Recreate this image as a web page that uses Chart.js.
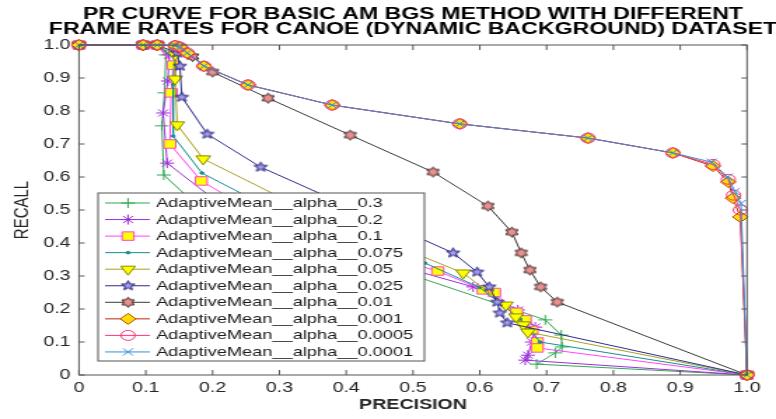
<!DOCTYPE html>
<html>
<head>
<meta charset="utf-8">
<script src="https://cdn.jsdelivr.net/npm/chart.js@4"></script>
<style>
    body { margin: 0; background: #fff; }
    canvas { display: block; }
</style>
</head>
<body>
<!-- o desenho original está esticado na horizontal, por isso o canvas é mais estreito e o CSS estica -->
<canvas id="grafico" width="554" height="419" style="width:776px;height:419px"></canvas>
<script>
const titulo = ['PR CURVE FOR BASIC AM BGS METHOD WITH DIFFERENT', 'FRAME RATES FOR CANOE (DYNAMIC BACKGROUND) DATASET'];
const legendas = [
    'AdaptiveMean__alpha__0.3',
    'AdaptiveMean__alpha__0.2',
    'AdaptiveMean__alpha__0.1',
    'AdaptiveMean__alpha__0.075',
    'AdaptiveMean__alpha__0.05',
    'AdaptiveMean__alpha__0.025',
    'AdaptiveMean__alpha__0.01',
    'AdaptiveMean__alpha__0.001',
    'AdaptiveMean__alpha__0.0005',
    'AdaptiveMean__alpha__0.0001'
];
const ticksEixo = [0, 0.1, 0.2, 0.3, 0.4, 0.5, 0.6, 0.7, 0.8, 0.9, 1];

// precisão (x) e recall (y)
const precision03 = [0, 0.096, 0.117, 0.13, 0.128, 0.124, 0.127, 0.20, 0.40, 0.698, 0.722, 0.723, 0.713, 0.685, 1];
const recall03    = [1, 1, 1, 0.97, 0.855, 0.755, 0.606, 0.47, 0.37, 0.167, 0.121, 0.085, 0.067, 0.033, 0];
const precision02 = [0, 0.096, 0.117, 0.135, 0.133, 0.126, 0.132, 0.21, 0.32, 0.590, 0.657, 0.683, 0.678, 0.672, 0.668, 1];
const recall02    = [1, 1, 1, 0.97, 0.891, 0.794, 0.642, 0.52, 0.42, 0.267, 0.197, 0.145, 0.10, 0.06, 0.045, 0];
const precision01 = [0, 0.096, 0.117, 0.141, 0.138, 0.136, 0.183, 0.30, 0.537, 0.605, 0.622, 0.655, 0.668, 0.678, 0.686, 0.686, 1];
const recall01    = [1, 1, 1, 0.939, 0.855, 0.70, 0.588, 0.45, 0.315, 0.258, 0.25, 0.19, 0.167, 0.135, 0.10, 0.082, 0];
const precision0075 = [0, 0.096, 0.117, 0.143, 0.141, 0.141, 0.184, 0.32, 0.518, 0.60, 0.635, 0.66, 0.675, 0.69, 1];
const recall0075    = [1, 1, 1, 0.96, 0.88, 0.724, 0.612, 0.47, 0.339, 0.265, 0.21, 0.17, 0.14, 0.10, 0];
const precision005 = [0, 0.096, 0.117, 0.144, 0.144, 0.147, 0.186, 0.32, 0.575, 0.639, 0.654, 0.665, 0.672, 1];
const recall005    = [1, 1, 1, 0.97, 0.897, 0.758, 0.655, 0.52, 0.309, 0.212, 0.176, 0.152, 0.130, 0];
const precision0025 = [0, 0.096, 0.117, 0.147, 0.151, 0.154, 0.192, 0.272, 0.560, 0.596, 0.614, 0.626, 0.630, 0.641, 1];
const recall0025    = [1, 1, 1, 0.976, 0.936, 0.842, 0.730, 0.630, 0.370, 0.312, 0.267, 0.221, 0.188, 0.158, 0];
const precision001 = [0, 0.096, 0.117, 0.144, 0.155, 0.170, 0.200, 0.283, 0.406, 0.530, 0.612, 0.648, 0.662, 0.675, 0.691, 0.716, 1];
const recall001    = [1, 1, 1, 0.997, 0.985, 0.965, 0.918, 0.839, 0.727, 0.615, 0.512, 0.433, 0.370, 0.318, 0.267, 0.221, 0];
const precision0001 = [0, 0.096, 0.117, 0.144, 0.151, 0.162, 0.187, 0.253, 0.379, 0.570, 0.762, 0.889, 0.949, 0.972, 0.979, 0.990, 1];
const recall0001    = [1, 1, 1, 0.998, 0.994, 0.976, 0.936, 0.879, 0.818, 0.761, 0.718, 0.673, 0.633, 0.585, 0.536, 0.479, 0];
const precision00005 = [0, 0.096, 0.117, 0.144, 0.151, 0.162, 0.187, 0.253, 0.379, 0.570, 0.762, 0.889, 0.949, 0.972, 0.980, 0.990, 1];
const recall00005    = [1, 1, 1, 0.998, 0.994, 0.976, 0.936, 0.879, 0.818, 0.761, 0.718, 0.673, 0.638, 0.593, 0.545, 0.500, 0];
const precision00001 = [0, 0.096, 0.117, 0.144, 0.151, 0.162, 0.187, 0.253, 0.379, 0.570, 0.762, 0.889, 0.947, 0.971, 0.982, 0.991, 1];
const recall00001    = [1, 1, 1, 0.998, 0.994, 0.976, 0.936, 0.879, 0.818, 0.761, 0.718, 0.673, 0.645, 0.600, 0.556, 0.520, 0];

const fonte = "'Liberation Sans', Arial, sans-serif";
Chart.defaults.font.family = fonte;

// marcadores estrela do matlab (pentagrama e hexagrama)
function estrela(n, ro, ri, fill, stroke) {
    const c = document.createElement('canvas');
    c.width = c.height = Math.ceil(2 * ro + 3);
    const g = c.getContext('2d');
    const m = c.width / 2;
    g.beginPath();
    for (let k = 0; k < 2 * n; k++) {
        const r = k % 2 ? ri : ro;
        const a = -Math.PI / 2 + k * Math.PI / n;
        g.lineTo(m + r * Math.cos(a), m + r * Math.sin(a));
    }
    g.closePath();
    g.fillStyle = fill; g.fill();
    g.strokeStyle = stroke; g.lineWidth = 1; g.stroke();
    return c;
}
const pentagrama = estrela(5, 5, 2.2, '#a49ae8', '#1e1e78');
const hexagrama = estrela(6, 5, 3, '#e89090', '#3a2020');

const series = [
    { x: precision03, y: recall03, cor: '#33a853', estilo: 'cross', raio: 5, fundo: '#33a853' },
    { x: precision02, y: recall02, cor: '#9b30d9', estilo: 'star', raio: 5, fundo: '#9b30d9' },
    { x: precision01, y: recall01, cor: '#ff44ff', estilo: 'rect', raio: 6, fundo: '#ffff00', borda: '#ff44cc' },
    { x: precision0075, y: recall0075, cor: '#138f8f', estilo: 'circle', raio: 1.3, fundo: '#138f8f' },
    { x: precision005, y: recall005, cor: '#a8a020', estilo: 'triangle', raio: 6, rot: 180, fundo: '#ffff00', borda: '#8c8c00' },
    { x: precision0025, y: recall0025, cor: '#2b2b8c', estilo: pentagrama, raio: 5 },
    { x: precision001, y: recall001, cor: '#3a3a3a', estilo: hexagrama, raio: 5 },
    { x: precision0001, y: recall0001, cor: '#cc2200', estilo: 'rectRot', raio: 5.5, fundo: '#ffe000', borda: '#c04000' },
    { x: precision00005, y: recall00005, cor: '#ff3377', estilo: 'circle', raio: 5, fundo: 'rgba(0,0,0,0)' },
    { x: precision00001, y: recall00001, cor: '#3b8fd0', estilo: 'crossRot', raio: 5, fundo: '#3b8fd0' }
];

const datasets = series.map((s, i) => ({
    label: legendas[i],
    data: s.x.map((p, j) => ({ x: p, y: s.y[j] })),
    borderColor: s.cor,
    borderWidth: 1,
    pointStyle: s.estilo,
    pointRadius: s.raio,
    pointHoverRadius: s.raio,
    pointRotation: s.rot || 0,
    pointBackgroundColor: s.fundo || s.cor,
    pointBorderColor: s.borda || s.cor,
    pointBorderWidth: 1,
    tension: 0,
    clip: false,
    order: series.length - i
}));

const tituloPlugin = {
    id: 'tituloEsticado',
    afterDraw(chart) {
        const ctx = chart.ctx;
        const cx = (chart.chartArea.left + chart.chartArea.right) / 2;
        ctx.save();
        ctx.font = 'bold 16px ' + fonte;
        ctx.fillStyle = '#000';
        ctx.textAlign = 'center';
        ctx.textBaseline = 'alphabetic';
        const esc = 520 / ctx.measureText(titulo[1]).width;
        [18.5, 33.5].forEach((y, i) => {
            ctx.save();
            ctx.translate(cx, y);
            ctx.scale(esc, 1);
            ctx.fillText(titulo[i], 0, 0);
            ctx.restore();
        });
        ctx.restore();
    }
};

// caixa do eixo com ticks para dentro, como no matlab
const molduraPlugin = {
    id: 'moldura',
    afterDatasetsDraw(chart) {
        const { ctx, chartArea: a, scales } = chart;
        ctx.save();
        ctx.strokeStyle = '#555';
        ctx.lineWidth = 1;
        ctx.strokeRect(a.left, a.top, a.right - a.left, a.bottom - a.top);
        ctx.beginPath();
        ticksEixo.forEach(v => {
            const px = scales.x.getPixelForValue(v);
            ctx.moveTo(px, a.bottom); ctx.lineTo(px, a.bottom - 5);
            ctx.moveTo(px, a.top); ctx.lineTo(px, a.top + 5);
            const py = scales.y.getPixelForValue(v);
            ctx.moveTo(a.left, py); ctx.lineTo(a.left + 4, py);
            ctx.moveTo(a.right, py); ctx.lineTo(a.right - 4, py);
        });
        ctx.stroke();
        ctx.restore();
    }
};

const legendaPlugin = {
    id: 'legendaDentro',
    afterDatasetsDraw(chart) {
        const ctx = chart.ctx;
        const caixa = { x: 70, y: 193, w: 233, h: 168 };
        ctx.save();
        ctx.fillStyle = '#fff';
        ctx.fillRect(caixa.x, caixa.y, caixa.w, caixa.h);
        ctx.strokeStyle = '#555';
        ctx.lineWidth = 1;
        ctx.strokeRect(caixa.x, caixa.y, caixa.w, caixa.h);
        chart.data.datasets.forEach((ds, i) => {
            const y = 203 + i * 16.55;
            ctx.strokeStyle = ds.borderColor;
            ctx.beginPath();
            ctx.moveTo(75, y); ctx.lineTo(107, y);
            ctx.stroke();
            ctx.save();
            ctx.fillStyle = ds.pointBackgroundColor;
            ctx.strokeStyle = ds.pointBorderColor;
            ctx.lineWidth = ds.pointBorderWidth;
            if (Chart.helpers && Chart.helpers.drawPoint) {
                Chart.helpers.drawPoint(ctx, {
                    pointStyle: ds.pointStyle,
                    radius: ds.pointRadius,
                    rotation: ds.pointRotation,
                    borderWidth: ds.pointBorderWidth
                }, 91.4, y);
            }
            ctx.restore();
            ctx.fillStyle = '#1a1a1a';
            ctx.font = '13px ' + fonte;
            ctx.textBaseline = 'middle';
            ctx.fillText(ds.label, 111.4, y + 0.5);
        });
        ctx.restore();
    }
};

new Chart(document.getElementById('grafico'), {
    type: 'line',
    data: { datasets },
    options: {
        responsive: false,
        animation: false,
        devicePixelRatio: 1,
        layout: { padding: { top: 45, right: 20.7, left: 0, bottom: 0 } },
        plugins: { legend: { display: false }, tooltip: { enabled: false } },
        scales: {
            x: {
                type: 'linear', min: 0, max: 1,
                afterFit: s => { s.height = 44; },
                afterBuildTicks: s => { s.ticks = ticksEixo.map(v => ({ value: v })); },
                grid: { display: false, drawTicks: false },
                border: { display: false },
                ticks: { color: '#262626', font: { size: 14 }, padding: 5, autoSkip: false, maxRotation: 0 },
                title: { display: true, text: 'PRECISION', color: '#262626', font: { size: 14, weight: 'bold' }, padding: { top: 0, bottom: 5 } }
            },
            y: {
                type: 'linear', min: 0, max: 1,
                afterFit: s => { s.width = 56.4; },
                afterBuildTicks: s => { s.ticks = ticksEixo.map(v => ({ value: v })); },
                grid: { display: false, drawTicks: false },
                border: { display: false },
                ticks: { color: '#262626', font: { size: 14 }, padding: 6, autoSkip: false },
                title: { display: true, text: 'RECALL', color: '#262626', font: { size: 15 }, padding: { top: 7, bottom: 0 } }
            }
        }
    },
    plugins: [tituloPlugin, molduraPlugin, legendaPlugin]
});
</script>
</body>
</html>
